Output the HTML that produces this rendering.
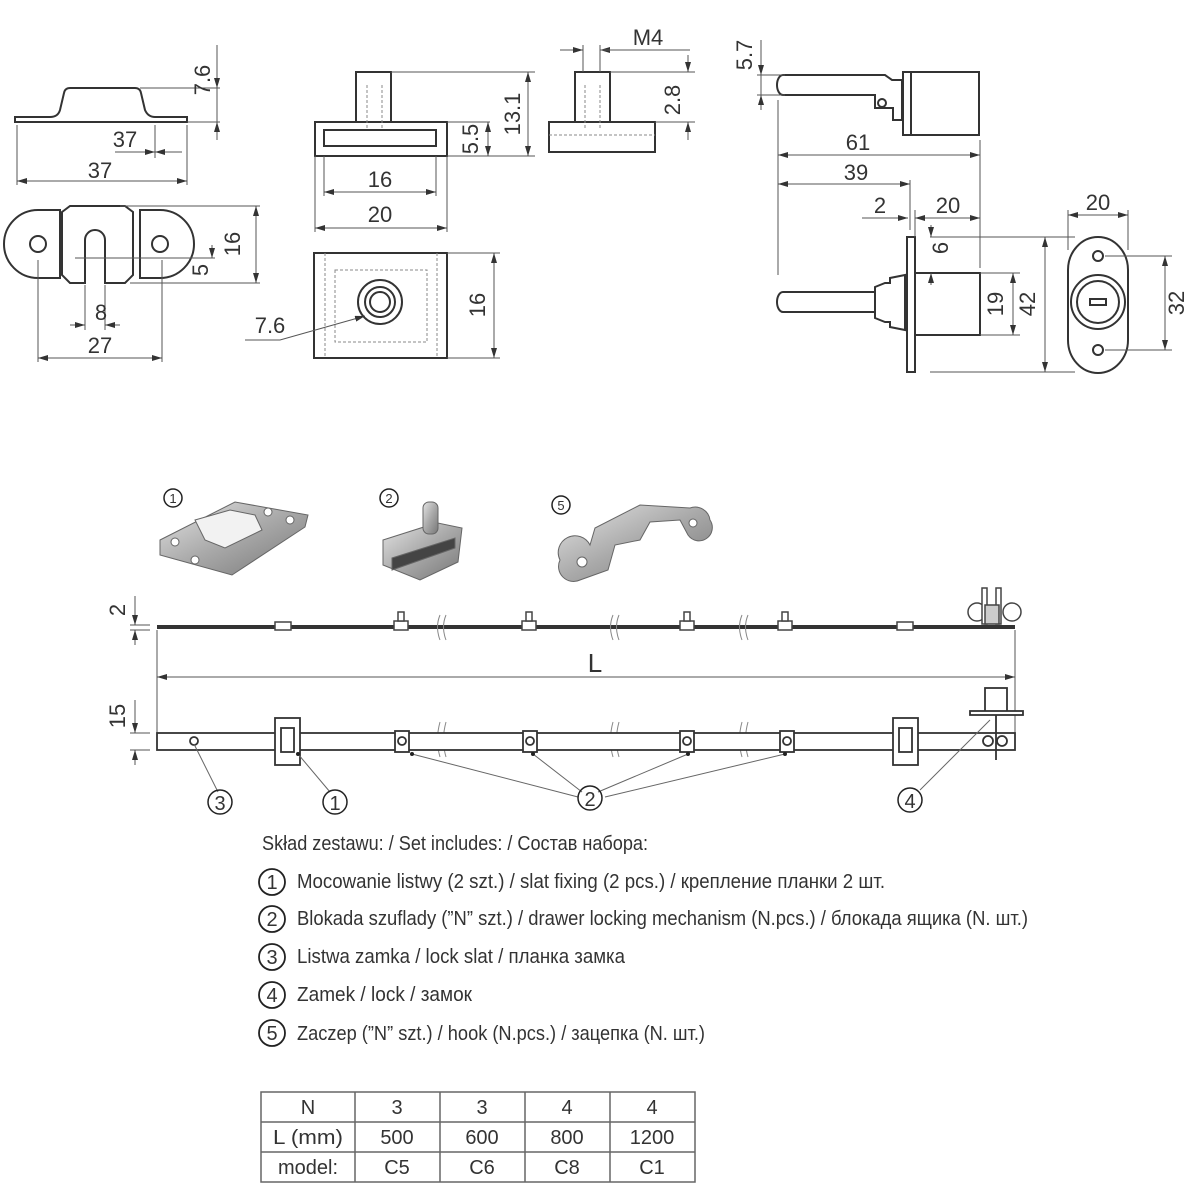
<!DOCTYPE html>
<html><head><meta charset="utf-8">
<style>
html,body{margin:0;padding:0;background:#fff;}
svg{display:block;}
text{font-family:"Liberation Sans Narrow","Liberation Sans",sans-serif;fill:#333;}
</style></head>
<body>
<svg width="1186" height="1200" viewBox="0 0 1186 1200" xmlns="http://www.w3.org/2000/svg">
<defs>
<marker id="a" viewBox="0 0 10 6" refX="10" refY="3" markerWidth="10" markerHeight="6" orient="auto-start-reverse" markerUnits="userSpaceOnUse"><path d="M0,0 L10,3 L0,6 z" fill="#333"/></marker>
<linearGradient id="g" x1="0" y1="0" x2="1" y2="1"><stop offset="0" stop-color="#e4e4e4"/><stop offset="0.5" stop-color="#a9a9a9"/><stop offset="1" stop-color="#777"/></linearGradient>
</defs>
<g fill="none" stroke="#333" stroke-width="2">
<path d="M15,117 L50,117 Q58,117 60,110 L64,93 Q65,88 70,88 L135,88 Q140,88 141,93 L145,110 Q148,117 155,117 L187,117 L187,122 L15,122 Z"/>
</g>
<g stroke="#555" stroke-width="1" fill="none">
<line x1="140" y1="88" x2="220" y2="88"/><line x1="187" y1="122" x2="220" y2="122"/>
<line x1="217" y1="45" x2="217" y2="140"/>
<line x1="17" y1="125" x2="17" y2="185"/><line x1="187" y1="125" x2="187" y2="185"/>
<line x1="17" y1="181" x2="187" y2="181" marker-start="url(#a)" marker-end="url(#a)"/>
<line x1="155" y1="125" x2="155" y2="158"/>
<line x1="115" y1="152" x2="155" y2="152" marker-end="url(#a)"/><line x1="182" y1="152" x2="155" y2="152" marker-end="url(#a)"/>
<line x1="217" y1="75" x2="217" y2="88" marker-end="url(#a)"/><line x1="217" y1="135" x2="217" y2="122" marker-end="url(#a)"/>
</g>
<text x="210" y="80" font-size="22" transform="rotate(-90 210 80)" text-anchor="middle">7.6</text>
<text x="125" y="147" font-size="22" text-anchor="middle">37</text>
<text x="100" y="178" font-size="22" text-anchor="middle">37</text>
<g fill="none" stroke="#333" stroke-width="2">
<path d="M55,210 L38,210 A34,34 0 0 0 38,278 L60,278 L60,210 Z"/>
<path d="M140,210 L160,210 A34,34 0 0 1 160,278 L140,278 Z"/>
<path d="M62,212 L70,206 L125,206 L133,212 L133,275 L125,283 L105,283 L105,240 A10,10 0 0 0 85,240 L85,283 L70,283 L62,275 Z"/>
<circle cx="38" cy="244" r="8"/><circle cx="160" cy="244" r="8"/>
</g>
<g stroke="#555" stroke-width="1" fill="none">
<line x1="120" y1="206" x2="260" y2="206"/><line x1="130" y1="283" x2="260" y2="283"/>
<line x1="256" y1="206" x2="256" y2="283" marker-start="url(#a)" marker-end="url(#a)"/>
<line x1="75" y1="258" x2="215" y2="258"/><line x1="212" y1="245" x2="212" y2="258" marker-end="url(#a)"/>
<line x1="85" y1="285" x2="85" y2="330"/><line x1="105" y1="285" x2="105" y2="330"/>
<line x1="70" y1="325" x2="85" y2="325" marker-end="url(#a)"/><line x1="120" y1="325" x2="105" y2="325" marker-end="url(#a)"/>
<line x1="38" y1="260" x2="38" y2="362"/><line x1="162" y1="260" x2="162" y2="362"/>
<line x1="38" y1="358" x2="162" y2="358" marker-start="url(#a)" marker-end="url(#a)"/>
</g>
<text x="240" y="244" font-size="22" transform="rotate(-90 240 244)" text-anchor="middle">16</text>
<text x="208" y="270" font-size="22" transform="rotate(-90 208 270)" text-anchor="middle">5</text>
<text x="101" y="320" font-size="22" text-anchor="middle">8</text>
<text x="100" y="353" font-size="22" text-anchor="middle">27</text>
<g fill="none" stroke="#333" stroke-width="2">
<rect x="356" y="72" width="35" height="50"/>
<rect x="315" y="122" width="132" height="34"/>
<rect x="324" y="130" width="112" height="16"/>
<rect x="314" y="253" width="133" height="105"/>
<circle cx="380" cy="302" r="22"/><circle cx="380" cy="302" r="15"/><circle cx="380" cy="302" r="10"/>
<rect x="575" y="72" width="35" height="50"/>
<rect x="549" y="122" width="106" height="30"/>
</g>
<g stroke="#888" stroke-width="1" stroke-dasharray="3,2" fill="none">
<line x1="367" y1="85" x2="367" y2="130"/><line x1="382" y1="85" x2="382" y2="130"/>
<rect x="335" y="270" width="92" height="72"/>
<line x1="325" y1="253" x2="325" y2="358"/><line x1="437" y1="253" x2="437" y2="358"/>
<line x1="585" y1="85" x2="585" y2="130"/><line x1="600" y1="85" x2="600" y2="130"/>
<line x1="549" y1="135" x2="655" y2="135"/>
</g>
<g stroke="#555" stroke-width="1" fill="none">
<line x1="391" y1="72" x2="535" y2="72"/><line x1="447" y1="156" x2="535" y2="156"/><line x1="447" y1="122" x2="490" y2="122"/>
<line x1="528" y1="72" x2="528" y2="156" marker-start="url(#a)" marker-end="url(#a)"/>
<line x1="488" y1="122" x2="488" y2="156" marker-start="url(#a)" marker-end="url(#a)"/>
<line x1="324" y1="156" x2="324" y2="196"/><line x1="436" y1="156" x2="436" y2="196"/>
<line x1="315" y1="156" x2="315" y2="232"/><line x1="447" y1="156" x2="447" y2="232"/>
<line x1="324" y1="192" x2="436" y2="192" marker-start="url(#a)" marker-end="url(#a)"/>
<line x1="315" y1="228" x2="447" y2="228" marker-start="url(#a)" marker-end="url(#a)"/>
<line x1="447" y1="253" x2="500" y2="253"/><line x1="447" y1="358" x2="500" y2="358"/>
<line x1="494" y1="253" x2="494" y2="358" marker-start="url(#a)" marker-end="url(#a)"/>
<polyline points="245,340 280,340 365,316" marker-end="url(#a)"/>
<line x1="583" y1="45" x2="583" y2="72"/><line x1="600" y1="45" x2="600" y2="72"/>
<line x1="560" y1="50" x2="583" y2="50" marker-end="url(#a)"/><line x1="620" y1="50" x2="600" y2="50" marker-end="url(#a)"/><line x1="600" y1="50" x2="690" y2="50"/>
<line x1="610" y1="72" x2="695" y2="72"/><line x1="655" y1="122" x2="695" y2="122"/>
<line x1="688" y1="55" x2="688" y2="72" marker-end="url(#a)"/><line x1="688" y1="140" x2="688" y2="122" marker-end="url(#a)"/>
</g>
<text x="520" y="114" font-size="22" transform="rotate(-90 520 114)" text-anchor="middle">13.1</text>
<text x="478" y="139" font-size="22" transform="rotate(-90 478 139)" text-anchor="middle">5.5</text>
<text x="380" y="187" font-size="22" text-anchor="middle">16</text>
<text x="380" y="222" font-size="22" text-anchor="middle">20</text>
<text x="485" y="305" font-size="22" transform="rotate(-90 485 305)" text-anchor="middle">16</text>
<text x="270" y="333" font-size="22" text-anchor="middle">7.6</text>
<text x="648" y="45" font-size="22" text-anchor="middle">M4</text>
<text x="680" y="100" font-size="22" transform="rotate(-90 680 100)" text-anchor="middle">2.8</text>
<g fill="none" stroke="#333" stroke-width="2">
<path d="M783,75 L885,75 L892,80 L902,80 L902,120 L893,120 L893,108 L875,108 L875,95 L783,95 A6,10 0 0 1 783,75 Z"/>
<circle cx="882" cy="103" r="4"/>
<rect x="903" y="72" width="8" height="63"/>
<rect x="911" y="72" width="68" height="63"/>
<path d="M783,292 L875,292 L875,312 L783,312 A6,10 0 0 1 783,292 Z"/>
<path d="M875,287 L885,283 L890,283 L890,278 L905,275 L905,330 L890,327 L890,322 L885,322 L875,318 Z"/>
<rect x="907" y="237" width="8" height="135"/>
<rect x="915" y="273" width="65" height="62"/>
<path d="M1068,270 A30,33 0 0 1 1128,270 L1128,340 A30,33 0 0 1 1068,340 Z"/>
<circle cx="1098" cy="302" r="27"/><circle cx="1098" cy="302" r="21"/>
<circle cx="1098" cy="256" r="5"/><circle cx="1098" cy="350" r="5"/>
<path d="M1090,299 L1106,299 L1106,305 L1090,305 Z"/>
</g>
<g stroke="#555" stroke-width="1" fill="none">
<line x1="761" y1="40" x2="761" y2="110"/>
<line x1="757" y1="75" x2="785" y2="75"/><line x1="757" y1="95" x2="785" y2="95"/>
<line x1="761" y1="60" x2="761" y2="75" marker-end="url(#a)"/><line x1="761" y1="108" x2="761" y2="95" marker-end="url(#a)"/>
<line x1="778" y1="100" x2="778" y2="275"/>
<line x1="980" y1="140" x2="980" y2="268"/>
<line x1="778" y1="155" x2="980" y2="155" marker-start="url(#a)" marker-end="url(#a)"/>
<line x1="910" y1="180" x2="910" y2="230"/>
<line x1="778" y1="184" x2="910" y2="184" marker-start="url(#a)" marker-end="url(#a)"/>
<line x1="862" y1="218" x2="908" y2="218" marker-end="url(#a)"/>
<line x1="915" y1="210" x2="915" y2="237"/>
<line x1="915" y1="218" x2="980" y2="218" marker-start="url(#a)" marker-end="url(#a)"/>
<line x1="930" y1="237" x2="1075" y2="237"/><line x1="930" y1="372" x2="1075" y2="372"/>
<line x1="931" y1="225" x2="931" y2="237" marker-end="url(#a)"/><line x1="931" y1="285" x2="931" y2="273" marker-end="url(#a)"/>
<line x1="980" y1="273" x2="1020" y2="273"/><line x1="980" y1="335" x2="1020" y2="335"/>
<line x1="1013" y1="273" x2="1013" y2="335" marker-start="url(#a)" marker-end="url(#a)"/>
<line x1="1045" y1="237" x2="1045" y2="372" marker-start="url(#a)" marker-end="url(#a)"/>
<line x1="1068" y1="210" x2="1068" y2="250"/><line x1="1128" y1="210" x2="1128" y2="250"/>
<line x1="1068" y1="215" x2="1128" y2="215" marker-start="url(#a)" marker-end="url(#a)"/>
<line x1="1105" y1="256" x2="1172" y2="256"/><line x1="1105" y1="350" x2="1172" y2="350"/>
<line x1="1165" y1="256" x2="1165" y2="350" marker-start="url(#a)" marker-end="url(#a)"/>
</g>
<text x="752" y="55" font-size="22" transform="rotate(-90 752 55)" text-anchor="middle">5.7</text>
<text x="858" y="150" font-size="22" text-anchor="middle">61</text>
<text x="856" y="180" font-size="22" text-anchor="middle">39</text>
<text x="880" y="213" font-size="22" text-anchor="middle">2</text>
<text x="948" y="213" font-size="22" text-anchor="middle">20</text>
<text x="948" y="248" font-size="22" transform="rotate(-90 948 248)" text-anchor="middle">6</text>
<text x="1003" y="304" font-size="22" transform="rotate(-90 1003 304)" text-anchor="middle">19</text>
<text x="1035" y="304" font-size="22" transform="rotate(-90 1035 304)" text-anchor="middle">42</text>
<text x="1098" y="210" font-size="22" text-anchor="middle">20</text>
<text x="1184" y="303" font-size="22" transform="rotate(-90 1184 303)" text-anchor="middle">32</text>
<g stroke="#666" stroke-width="1">
<path d="M160,540 L235,502 L308,515 L305,527 L232,575 L160,555 Z" fill="url(#g)"/>
<path d="M195,520 L230,510 L255,515 L262,530 L225,548 L205,540 Z" fill="#f2f2f2"/>
<circle cx="175" cy="542" r="4" fill="#fff"/><circle cx="195" cy="560" r="4" fill="#fff"/><circle cx="268" cy="512" r="4" fill="#fff"/><circle cx="290" cy="520" r="4" fill="#fff"/>
<path d="M383,540 L430,525 L433,522 L462,528 L458,562 L420,580 L383,565 Z" fill="url(#g)"/>
<path d="M392,558 L455,538 L455,548 L392,570 Z" fill="#444"/>
<rect x="423" y="502" width="15" height="32" rx="6" fill="url(#g)"/>
<path d="M560,560 A15,15 0 0 1 590,545 L595,528 L640,505 L690,508 A15,15 0 0 1 710,520 A12,12 0 0 1 688,535 L680,520 L650,522 L640,540 L615,545 L608,570 L580,580 A15,15 0 0 1 560,560 Z" fill="url(#g)"/>
<circle cx="582" cy="562" r="5" fill="#fff"/><circle cx="693" cy="523" r="4" fill="#fff"/>
</g>
<g fill="none" stroke="#222" stroke-width="1.5">
<circle cx="173" cy="498" r="9"/><circle cx="389" cy="498" r="9"/><circle cx="561" cy="505" r="9"/>
</g>
<text x="173" y="503" font-size="13" text-anchor="middle">1</text>
<text x="389" y="503" font-size="13" text-anchor="middle">2</text>
<text x="561" y="510" font-size="13" text-anchor="middle">5</text>
<g stroke="#333" fill="none">
<line x1="157" y1="627" x2="1015" y2="627" stroke-width="4"/>
</g>
<g stroke="#444" stroke-width="1.5" fill="#fff">
<rect x="275" y="622" width="16" height="8"/><rect x="897" y="622" width="16" height="8"/>
<rect x="394" y="621" width="14" height="9"/><rect x="398" y="612" width="6" height="9"/>
<rect x="522" y="621" width="14" height="9"/><rect x="526" y="612" width="6" height="9"/>
<rect x="680" y="621" width="14" height="9"/><rect x="684" y="612" width="6" height="9"/>
<rect x="778" y="621" width="14" height="9"/><rect x="782" y="612" width="6" height="9"/>
<circle cx="977" cy="612" r="9"/><circle cx="1012" cy="612" r="9"/>
<rect x="982" y="588" width="5" height="36"/><rect x="996" y="588" width="5" height="36"/>
<rect x="985" y="605" width="14" height="19" fill="#ccc"/>
</g>
<g stroke="#888" stroke-width="1" fill="none">
<path d="M440,615 Q435,627 440,640 M446,615 Q441,627 446,640"/>
<path d="M613,615 Q608,627 613,640 M619,615 Q614,627 619,640"/>
<path d="M742,615 Q737,627 742,640 M748,615 Q743,627 748,640"/>
<path d="M440,722 Q435,740 440,757 M446,722 Q441,740 446,757"/>
<path d="M613,722 Q608,740 613,757 M619,722 Q614,740 619,757"/>
<path d="M742,722 Q737,740 742,757 M748,722 Q743,740 748,757"/>
</g>
<g stroke="#555" stroke-width="1" fill="none">
<line x1="130" y1="625" x2="150" y2="625"/><line x1="130" y1="630" x2="150" y2="630"/>
<line x1="135" y1="596" x2="135" y2="625" marker-end="url(#a)"/><line x1="135" y1="645" x2="135" y2="630" marker-end="url(#a)"/>
<line x1="157" y1="630" x2="157" y2="740"/><line x1="1015" y1="630" x2="1015" y2="740"/>
<line x1="157" y1="677" x2="1015" y2="677" marker-start="url(#a)" marker-end="url(#a)"/>
<line x1="130" y1="733" x2="150" y2="733"/><line x1="130" y1="750" x2="150" y2="750"/>
<line x1="135" y1="700" x2="135" y2="733" marker-end="url(#a)"/><line x1="135" y1="765" x2="135" y2="750" marker-end="url(#a)"/>
</g>
<text x="125" y="610" font-size="22" transform="rotate(-90 125 610)" text-anchor="middle">2</text>
<text x="595" y="672" font-size="26" text-anchor="middle">L</text>
<text x="125" y="716" font-size="22" transform="rotate(-90 125 716)" text-anchor="middle">15</text>
<g stroke="#333" stroke-width="1.8" fill="none">
<rect x="157" y="733" width="858" height="17" fill="#fff"/>
<circle cx="194" cy="741" r="4"/>
<rect x="275" y="718" width="25" height="47" fill="#fff"/><rect x="281" y="728" width="13" height="24"/>
<rect x="893" y="718" width="25" height="47" fill="#fff"/><rect x="899" y="728" width="13" height="24"/>
<rect x="395" y="731" width="14" height="21" fill="#fff"/><circle cx="402" cy="741" r="4"/>
<rect x="523" y="731" width="14" height="21" fill="#fff"/><circle cx="530" cy="741" r="4"/>
<rect x="680" y="731" width="14" height="21" fill="#fff"/><circle cx="687" cy="741" r="4"/>
<rect x="780" y="731" width="14" height="21" fill="#fff"/><circle cx="787" cy="741" r="4"/>
<rect x="985" y="688" width="22" height="24" fill="#fff"/>
<rect x="970" y="711" width="53" height="4" fill="#fff"/>
<line x1="996" y1="715" x2="996" y2="760"/>
<circle cx="988" cy="741" r="5"/><circle cx="1002" cy="741" r="5"/>
</g>
<g stroke="#666" stroke-width="1" fill="none">
<line x1="194" y1="744" x2="218" y2="792"/>
<line x1="298" y1="754" x2="330" y2="792"/>
<line x1="412" y1="754" x2="578" y2="797"/>
<line x1="533" y1="754" x2="582" y2="792"/>
<line x1="688" y1="754" x2="598" y2="792"/>
<line x1="785" y1="754" x2="605" y2="797"/>
<line x1="990" y1="720" x2="920" y2="790"/>
</g>
<g fill="#222"><circle cx="298" cy="754" r="2"/><circle cx="412" cy="754" r="2"/><circle cx="533" cy="754" r="2"/><circle cx="688" cy="754" r="2"/><circle cx="785" cy="754" r="2"/></g>
<g fill="none" stroke="#222" stroke-width="1.5">
<circle cx="220" cy="802" r="12"/><circle cx="335" cy="802" r="12"/><circle cx="590" cy="798" r="12"/><circle cx="910" cy="800" r="12"/>
</g>
<text x="220" y="810" font-size="20" text-anchor="middle">3</text>
<text x="335" y="810" font-size="20" text-anchor="middle">1</text>
<text x="590" y="806" font-size="20" text-anchor="middle">2</text>
<text x="910" y="808" font-size="20" text-anchor="middle">4</text>
<g font-size="20">
<text x="262" y="850" textLength="386" lengthAdjust="spacingAndGlyphs">Skład zestawu: / Set includes: / Состав набора:</text>
<text x="297" y="888" textLength="588" lengthAdjust="spacingAndGlyphs">Mocowanie listwy (2 szt.) / slat fixing (2 pcs.) / крепление планки 2 шт.</text>
<text x="297" y="925" textLength="731" lengthAdjust="spacingAndGlyphs">Blokada szuflady (”N” szt.) / drawer locking mechanism (N.pcs.) / блокада ящика (N. шт.)</text>
<text x="297" y="963" textLength="328" lengthAdjust="spacingAndGlyphs">Listwa zamka / lock slat / планка замка</text>
<text x="297" y="1001" textLength="175" lengthAdjust="spacingAndGlyphs">Zamek / lock / замок</text>
<text x="297" y="1040" textLength="408" lengthAdjust="spacingAndGlyphs">Zaczep (”N” szt.) / hook (N.pcs.) / зацепка (N. шт.)</text>
</g>
<g fill="none" stroke="#222" stroke-width="1.8">
<circle cx="272" cy="882" r="13"/><circle cx="272" cy="919" r="13"/><circle cx="272" cy="957" r="13"/><circle cx="272" cy="995" r="13"/><circle cx="272" cy="1033" r="13"/>
</g>
<g font-size="20" text-anchor="middle">
<text x="272" y="889">1</text><text x="272" y="926">2</text><text x="272" y="964">3</text><text x="272" y="1002">4</text><text x="272" y="1040">5</text>
</g>
<g stroke="#666" stroke-width="1.5" fill="none">
<rect x="261" y="1092" width="434" height="90"/>
<line x1="261" y1="1122" x2="695" y2="1122"/><line x1="261" y1="1152" x2="695" y2="1152"/>
<line x1="355" y1="1092" x2="355" y2="1182"/><line x1="440" y1="1092" x2="440" y2="1182"/>
<line x1="525" y1="1092" x2="525" y2="1182"/><line x1="610" y1="1092" x2="610" y2="1182"/>
</g>
<g font-size="20" text-anchor="middle">
<text x="308" y="1114">N</text><text x="397" y="1114">3</text><text x="482" y="1114">3</text><text x="567" y="1114">4</text><text x="652" y="1114">4</text>
<text x="308" y="1144" textLength="70" lengthAdjust="spacingAndGlyphs">L (mm)</text><text x="397" y="1144">500</text><text x="482" y="1144">600</text><text x="567" y="1144">800</text><text x="652" y="1144">1200</text>
<text x="308" y="1174">model:</text><text x="397" y="1174">C5</text><text x="482" y="1174">C6</text><text x="567" y="1174">C8</text><text x="652" y="1174">C1</text>
</g>
</svg>
</body></html>
